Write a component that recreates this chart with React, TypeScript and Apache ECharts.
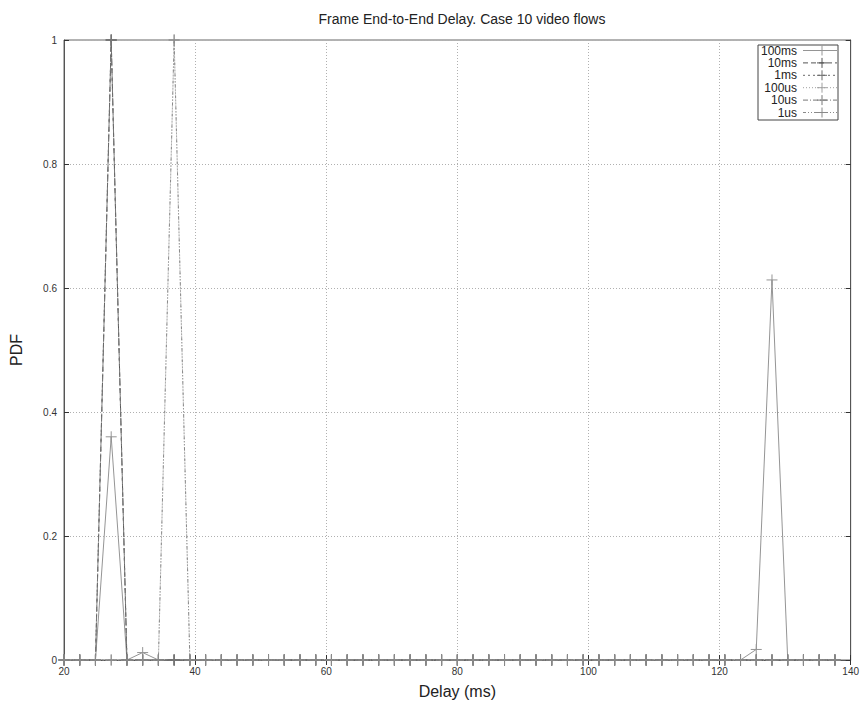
import React, { useEffect, useRef } from "react";
import * as echarts from "echarts";

const delays = [
  20, 22.4, 24.8, 27.2, 29.6, 32, 34.4, 36.8, 39.2, 41.6, 44, 46.4, 48.8, 51.2, 53.6, 56, 58.4,
  60.8, 63.2, 65.6, 68, 70.4, 72.8, 75.2, 77.6, 80, 82.4, 84.8, 87.2, 89.6, 92, 94.4, 96.8, 99.2,
  101.6, 104, 106.4, 108.8, 111.2, 113.6, 116, 118.4, 120.8, 123.2, 125.6, 128, 130.4, 132.8, 135.2,
  137.6,
];

const seriesNames = ["100ms", "10ms", "1ms", "100us", "10us", "1us"];

// PDF values per delay bin
const pdf100ms = [
  0, 0, 0, 0.36, 0, 0.012, 0, 0, 0, 0, 0, 0, 0, 0, 0, 0, 0, 0, 0, 0, 0, 0, 0, 0, 0, 0, 0, 0, 0, 0,
  0, 0, 0, 0, 0, 0, 0, 0, 0, 0, 0, 0, 0, 0, 0.017, 0.613, 0, 0, 0, 0,
];
const pdf10ms = [
  0, 0, 0, 1, 0, 0, 0, 0, 0, 0, 0, 0, 0, 0, 0, 0, 0, 0, 0, 0, 0, 0, 0, 0, 0, 0, 0, 0, 0, 0, 0, 0, 0,
  0, 0, 0, 0, 0, 0, 0, 0, 0, 0, 0, 0, 0, 0, 0, 0, 0,
];
const pdf1ms = [
  0, 0, 0, 1, 0, 0, 0, 0, 0, 0, 0, 0, 0, 0, 0, 0, 0, 0, 0, 0, 0, 0, 0, 0, 0, 0, 0, 0, 0, 0, 0, 0, 0,
  0, 0, 0, 0, 0, 0, 0, 0, 0, 0, 0, 0, 0, 0, 0, 0, 0,
];
const pdf100us = [
  0, 0, 0, 0, 0, 0, 0, 1, 0, 0, 0, 0, 0, 0, 0, 0, 0, 0, 0, 0, 0, 0, 0, 0, 0, 0, 0, 0, 0, 0, 0, 0, 0,
  0, 0, 0, 0, 0, 0, 0, 0, 0, 0, 0, 0, 0, 0, 0, 0, 0,
];
const pdf10us = [
  0, 0, 0, 1, 0, 0, 0, 0, 0, 0, 0, 0, 0, 0, 0, 0, 0, 0, 0, 0, 0, 0, 0, 0, 0, 0, 0, 0, 0, 0, 0, 0, 0,
  0, 0, 0, 0, 0, 0, 0, 0, 0, 0, 0, 0, 0, 0, 0, 0, 0,
];
const pdf1us = [
  0, 0, 0, 0, 0, 0, 0, 1, 0, 0, 0, 0, 0, 0, 0, 0, 0, 0, 0, 0, 0, 0, 0, 0, 0, 0, 0, 0, 0, 0, 0, 0, 0,
  0, 0, 0, 0, 0, 0, 0, 0, 0, 0, 0, 0, 0, 0, 0, 0, 0,
];

const seriesValues = [pdf100ms, pdf10ms, pdf1ms, pdf100us, pdf10us, pdf1us];

const xTicks = [20, 40, 60, 80, 100, 120, 140];
const yTicks = [0, 0.2, 0.4, 0.6, 0.8, 1];

const dashes: (number[] | null)[] = [
  null,
  [5, 3],
  [2, 3],
  [1, 2],
  [5, 2, 1, 2],
  [3, 2, 1, 2, 1, 2],
];
const colors = ["#959595", "#555555", "#6a6a6a", "#a0a0a0", "#777777", "#8a8a8a"];

const FONT = "'Liberation Sans', Arial, Helvetica, sans-serif";
const PLUS = "path://M5,0 L5,10 M0,5 L10,5";

export default function App() {
  const ref = useRef<HTMLDivElement>(null);

  useEffect(() => {
    if (!ref.current) return;
    const chart = echarts.init(ref.current, undefined, { renderer: "svg" });

    const gridLeft = 62;
    const gridTop = 40;
    const gridRight = 8;
    const gridBottom = 42;

    const legendX = 758;
    const legendY = 45;
    const rowH = 12.4;
    const legendGraphics: any[] = [
      {
        type: "rect",
        shape: { x: legendX, y: legendY, width: 80, height: 75 },
        style: { fill: "#fff", stroke: "#444", lineWidth: 1 },
        z: 100,
      },
    ];
    seriesNames.forEach((name, i) => {
      const cy = legendY + 5.5 + i * rowH;
      legendGraphics.push({
        type: "text",
        x: 797,
        y: cy,
        style: {
          text: name,
          font: `12px ${FONT}`,
          lineHeight: 12,
          fill: "#222",
          align: "right",
          verticalAlign: "middle",
        },
        z: 101,
      });
      legendGraphics.push({
        type: "line",
        shape: { x1: 803, y1: cy, x2: 837, y2: cy },
        style: { stroke: colors[i], lineWidth: 1, lineDash: dashes[i] || undefined },
        z: 101,
      });
      legendGraphics.push({
        type: "line",
        shape: { x1: 822, y1: cy - 5, x2: 822, y2: cy + 5 },
        style: { stroke: colors[i], lineWidth: 1 },
        z: 101,
      });
      legendGraphics.push({
        type: "line",
        shape: { x1: 817, y1: cy, x2: 827, y2: cy },
        style: { stroke: colors[i], lineWidth: 1 },
        z: 101,
      });
    });

    chart.setOption({
      animation: false,
      backgroundColor: "#fff",
      title: {
        text: "Frame End-to-End Delay. Case 10 video flows",
        left: 457,
        textAlign: "center",
        top: 7,
        textStyle: { fontFamily: FONT, fontSize: 14, fontWeight: "normal", color: "#222" },
      },
      grid: {
        left: gridLeft,
        top: gridTop,
        right: gridRight,
        bottom: gridBottom,
        show: true,
        borderColor: "#666",
        borderWidth: 1,
        backgroundColor: "transparent",
      },
      graphic: legendGraphics,
      xAxis: [
        {
          type: "value",
          min: xTicks[0],
          max: xTicks[xTicks.length - 1],
          interval: 20,
          name: "Delay (ms)",
          nameLocation: "middle",
          nameGap: 23,
          nameTextStyle: { fontFamily: FONT, fontSize: 16, color: "#222" },
          axisLine: { show: true, lineStyle: { color: "#555" } },
          axisTick: { show: true, inside: true, length: 5, lineStyle: { color: "#333" } },
          axisLabel: {
            fontFamily: FONT,
            fontSize: 10,
            color: "#333",
            margin: 6,
          },
          splitLine: { show: true, lineStyle: { color: "#b0b0b0", type: [1, 2], width: 1 } },
        },
        {
          type: "value",
          position: "top",
          min: xTicks[0],
          max: xTicks[xTicks.length - 1],
          interval: 20,
          axisLine: { show: true, lineStyle: { color: "#555" } },
          axisTick: { show: true, inside: true, length: 5, lineStyle: { color: "#333" } },
          axisLabel: { show: false },
          splitLine: { show: false },
        },
      ],
      yAxis: [
        {
          type: "value",
          min: yTicks[0],
          max: yTicks[yTicks.length - 1],
          interval: 0.2,
          name: "PDF",
          nameLocation: "middle",
          nameGap: 40,
          nameRotate: 90,
          nameTextStyle: { fontFamily: FONT, fontSize: 16, color: "#222" },
          axisLine: { show: true, lineStyle: { color: "#555" } },
          axisTick: { show: true, inside: true, length: 5, lineStyle: { color: "#333" } },
          axisLabel: {
            fontFamily: FONT,
            fontSize: 10,
            color: "#333",
            margin: 7,
            formatter: (v: number) => String(Math.round(v * 10) / 10),
          },
          splitLine: { show: true, lineStyle: { color: "#b0b0b0", type: [1, 2], width: 1 } },
        },
        {
          type: "value",
          position: "right",
          min: yTicks[0],
          max: yTicks[yTicks.length - 1],
          interval: 0.2,
          axisLine: { show: true, lineStyle: { color: "#555" } },
          axisTick: { show: true, inside: true, length: 5, lineStyle: { color: "#333" } },
          axisLabel: { show: false },
          splitLine: { show: false },
        },
      ],
      series: seriesNames.map((name, i) => ({
        name,
        type: "line",
        xAxisIndex: 0,
        yAxisIndex: 0,
        data: delays.map((d, k) => [d, seriesValues[i][k]]),
        symbol: PLUS,
        symbolSize: 11,
        showSymbol: true,
        clip: false,
        itemStyle: { color: "none", borderColor: colors[i], borderWidth: 1 },
        lineStyle: { color: colors[i], width: 1, type: dashes[i] || "solid" },
        emphasis: { disabled: true },
        z: 2 + i,
      })),
    });

    return () => chart.dispose();
  }, []);

  return (
    <div
      ref={ref}
      style={{ position: "fixed", left: 0, top: 0, width: 862, height: 704, background: "#fff" }}
    />
  );
}
